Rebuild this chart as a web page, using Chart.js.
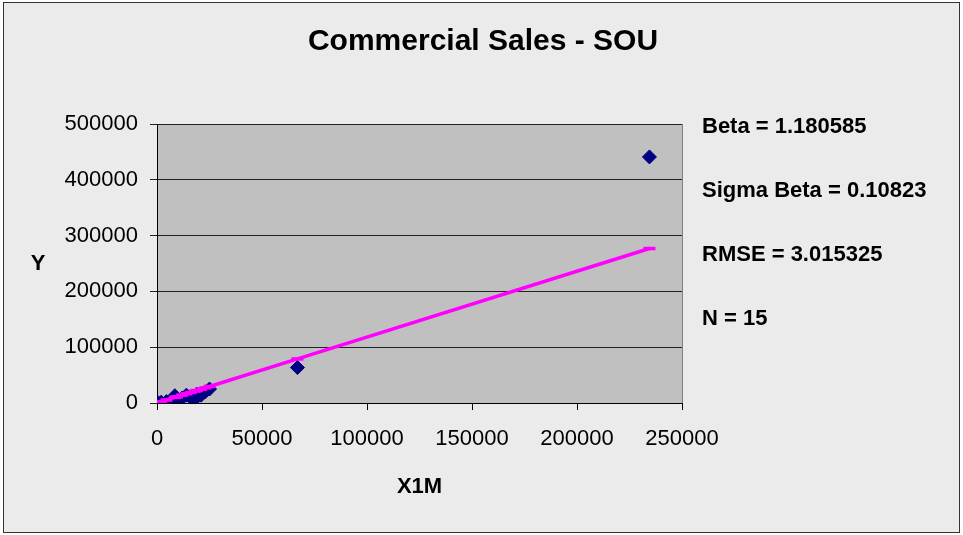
<!DOCTYPE html>
<html>
<head>
<meta charset="utf-8">
<script src="https://cdn.jsdelivr.net/npm/chart.js@4.4.1/dist/chart.umd.min.js"></script>
<style>
  html, body { margin:0; padding:0; background:#fff; }
  #wrap { width:963px; height:535px; }
</style>
</head>
<body>
<div id="wrap"><canvas id="c" width="963" height="535"></canvas></div>
<script>
'use strict';
/* Commercial Sales - SOU — scatter with fitted line */

/* ── data ── */
const X1M = [500, 2000, 4500, 8500, 9500, 12000, 14000, 16000, 18000, 19000, 21000, 23000, 25000, 66900, 234500];
const Y   = [300, 1500, 2500, 13000, 6000, 9000, 14000, 10000, 6500, 16000, 14000, 20000, 25000, 63500, 441000];
const BETA = 1.180585;
const TITLE = 'Commercial Sales - SOU';
const STATS = ['Beta = 1.180585', 'Sigma Beta = 0.10823', 'RMSE = 3.015325', 'N = 15'];
const Y_TICKS = [0, 100000, 200000, 300000, 400000, 500000];
const X_TICKS = [0, 50000, 100000, 150000, 200000, 250000];

const points = X1M.map((x, i) => ({ x, y: Y[i] }));
const fit = [...X1M].sort((a, b) => a - b).map(x => ({ x, y: BETA * x }));

const FONT = '"Liberation Sans", Arial, sans-serif';

/* ── background, plot area, border, title, side texts ── */
const frame = {
  id: 'frame',
  beforeDraw(chart) {
    const { ctx, chartArea: a } = chart;
    ctx.save();
    ctx.fillStyle = '#ebebeb';
    ctx.fillRect(3, 2, 957, 531);
    ctx.strokeStyle = '#333';
    ctx.lineWidth = 1;
    ctx.strokeRect(3.5, 2.5, 956, 530);
    ctx.fillStyle = '#c0c0c0';
    ctx.fillRect(a.left, a.top, a.right - a.left, a.bottom - a.top);
    ctx.strokeStyle = '#808080';
    ctx.strokeRect(a.left + 0.5, a.top + 0.5, a.right - a.left, a.bottom - a.top);
    ctx.restore();
  },
  afterDraw(chart) {
    const { ctx } = chart;
    ctx.save();
    ctx.fillStyle = '#000';
    ctx.textBaseline = 'middle';
    ctx.textAlign = 'center';
    ctx.font = 'bold 30px ' + FONT;
    ctx.fillText(TITLE, 483, 42);
    ctx.font = 'bold 22px ' + FONT;
    ctx.fillText('Y', 38, 264);
    ctx.textAlign = 'left';
    const ys = [127, 191, 255, 319];
    STATS.forEach((t, i) => ctx.fillText(t, 702, ys[i]));
    ctx.restore();
  }
};

const tickFont = { family:FONT, size:22 };

new Chart(document.getElementById('c'), {
  type: 'scatter',
  data: {
    datasets: [
      { label:'Y', data: points, backgroundColor:'#000080', borderColor:'#000080',
        pointStyle:'rectRot', pointRadius:7, pointHoverRadius:7, order:2 },
      { label:'Fit', type:'line', data: fit, borderColor:'#ff00ff', backgroundColor:'#ff00ff',
        borderWidth:3.5, pointStyle:'line', pointRadius:6, pointBorderWidth:3.5,
        pointBorderColor:'#ff00ff', fill:false, tension:0, order:1 }
    ]
  },
  options: {
    responsive:false, animation:false,
    layout:{ padding:{ left:0, right:281, top:124, bottom:0 } },
    plugins:{ legend:{ display:false }, tooltip:{ enabled:false }, title:{ display:false } },
    scales:{
      x:{ type:'linear', min:0, max:250000,
        afterFit(s){ s.height = 132; },
        afterBuildTicks(s){ s.ticks = X_TICKS.map(v => ({ value:v })); },
        grid:{ drawOnChartArea:false, drawTicks:true, tickLength:7, color:'#000' },
        border:{ color:'#000', width:1 },
        ticks:{ color:'#000', font:tickFont, padding:16, maxRotation:0, autoSkip:false,
          callback:v => String(v) },
        title:{ display:true, text:'X1M', color:'#000',
          font:{ family:FONT, size:22, weight:'bold' },
          padding:{ top:0, bottom:35 } }
      },
      y:{ type:'linear', min:0, max:500000,
        afterFit(s){ s.width = 157; },
        afterBuildTicks(s){ s.ticks = Y_TICKS.map(v => ({ value:v })); },
        grid:{ color:'#222', tickLength:7, lineWidth:1 },
        border:{ color:'#000', width:1 },
        ticks:{ color:'#000', font:tickFont, padding:12, autoSkip:false,
          callback:v => String(v) }
      }
    }
  },
  plugins:[frame]
});
</script>
</body>
</html>
